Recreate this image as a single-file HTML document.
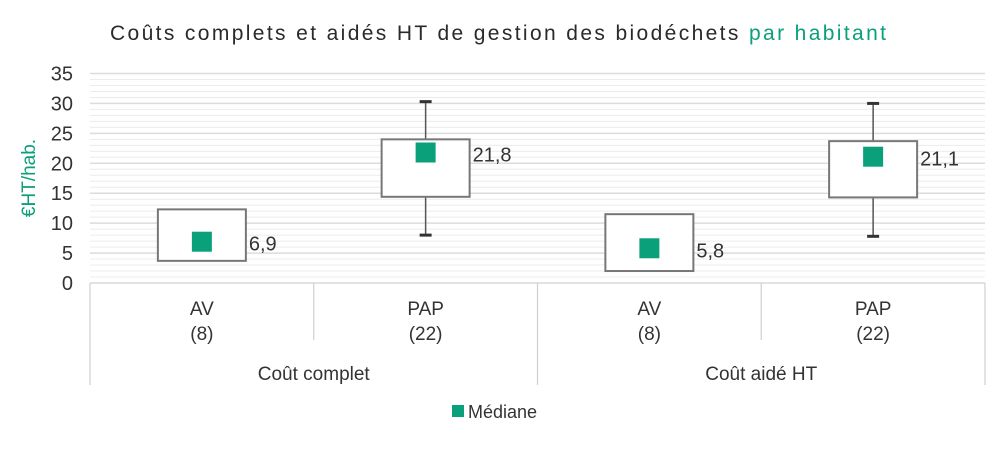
<!DOCTYPE html>
<html><head><meta charset="utf-8"><style>
body{margin:0;background:#fff;width:1002px;height:445px;overflow:hidden;font-family:"Liberation Sans",sans-serif}
</style></head><body>
<svg width="1002" height="445" xmlns="http://www.w3.org/2000/svg">
<text x="110" y="40" font-size="21" fill="#2a2a2a" textLength="776" lengthAdjust="spacing">Coûts complets et aidés HT de gestion des biodéchets <tspan fill="#0aa07a">par habitant</tspan></text>
<g id="grid"></g><g id="axis"></g><g id="boxes"></g>
<text transform="translate(35,178) rotate(-90)" text-anchor="middle" font-size="19" fill="#0aa07a">€HT/hab.</text>
<rect x="452" y="405" width="12" height="12" fill="#0aa07a"/>
<text x="468" y="418" font-size="18" fill="#333">Médiane</text>
</svg>
<script>
const categories=["AV","PAP","AV","PAP"];
const counts=["(8)","(22)","(8)","(22)"];
const groups=["Coût complet","Coût aidé HT"];
const boxLow=[3.7,14.4,2.0,14.3];
const boxHigh=[12.3,24.0,11.5,23.7];
const whiskerLow=[null,8.0,null,7.8];
const whiskerHigh=[null,30.3,null,30.0];
const medians=[6.9,21.8,5.8,21.1];
const medianLabels=["6,9","21,8","5,8","21,1"];
const yTicks=[0,5,10,15,20,25,30,35];
const NS="http://www.w3.org/2000/svg";
const x0=90,x1=985,y0=283,ppu=209.5/35;
const y=v=>y0-v*ppu;
const bw=(x1-x0)/categories.length;
const cx=i=>x0+bw*(i+0.5);
function mk(tag,attrs,parent,text){const e=document.createElementNS(NS,tag);for(const k in attrs)e.setAttribute(k,attrs[k]);if(text!=null)e.textContent=text;document.getElementById(parent).appendChild(e);return e;}
for(let v=1;v<=35;v++){const l=mk('line',{x1:x0,x2:x1,y1:y(v),y2:y(v),stroke:v%5==0?'#dcdcdc':'#ececec','stroke-width':v%5==0?1.5:1},'grid');

}
yTicks.forEach(v=>{const t=mk('text',{x:73,y:y(v)+7,'text-anchor':'end','font-size':20,fill:'#333'},'axis',v);

});
const ax=mk('path',{d:`M${x0} ${y0}H${x1}M${x0} ${y0}V385M${x1} ${y0}V385M${(x0+x1)/2} ${y0}V385M${x0+bw} ${y0}V340M${x0+3*bw} ${y0}V340`,stroke:'#d0d0d0','stroke-width':1.2,fill:'none'},'axis');


categories.forEach((c,i)=>{const t=mk('text',{x:cx(i),y:315,'text-anchor':'middle','font-size':19,fill:'#333'},'axis',c);


const n=mk('text',{x:cx(i),y:340,'text-anchor':'middle','font-size':19,fill:'#333'},'axis',counts[i]);

});
groups.forEach((g,j)=>{const t=mk('text',{x:x0+bw*(2*j+1),y:380,'text-anchor':'middle','font-size':19,fill:'#333'},'axis',g);

});
categories.forEach((c,i)=>{
const X=cx(i);
if(whiskerLow[i]!=null){
const w=mk('path',{d:`M${X} ${y(whiskerHigh[i])}V${y(boxHigh[i])}M${X} ${y(boxLow[i])}V${y(whiskerLow[i])}`,stroke:'#555','stroke-width':1.5},'boxes');


[whiskerHigh[i],whiskerLow[i]].forEach(v=>{const cap=mk('line',{x1:X-6,x2:X+6,y1:y(v),y2:y(v),stroke:'#333','stroke-width':3},'boxes');

});}
const b=mk('rect',{x:X-44,y:y(boxHigh[i]),width:88,height:y(boxLow[i])-y(boxHigh[i]),fill:'#fff',stroke:'#777','stroke-width':2},'boxes');


const m=mk('rect',{x:X-10,y:y(medians[i])-10,width:20,height:20,fill:'#0aa07a'},'boxes');


const t=mk('text',{x:X+47,y:y(medians[i])+9,'font-size':20,fill:'#333'},'boxes',medianLabels[i]);


});
</script>
</body></html>
